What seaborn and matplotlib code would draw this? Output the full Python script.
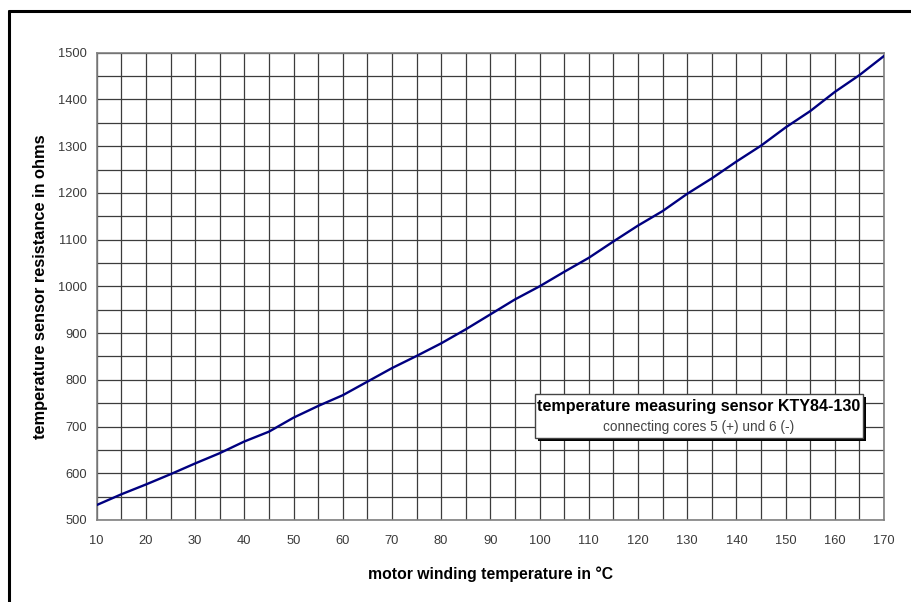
import numpy as np
import pandas as pd
import matplotlib
matplotlib.use('Agg')
import matplotlib.pyplot as plt
import seaborn as sns
from matplotlib.patches import Rectangle
from matplotlib.lines import Line2D
from matplotlib.ticker import MultipleLocator

# values (KTY84-130)
temperature = [10, 15, 20, 25, 30, 35, 40, 45, 50, 55, 60, 65, 70, 75, 80, 85,
               90, 95, 100, 105, 110, 115, 120, 125, 130, 135, 140, 145, 150,
               155, 160, 165, 170]
resistance = [532, 555, 576, 598, 621, 643, 668, 689, 719, 744, 767, 796, 825,
              851, 878, 908, 940, 972, 1000, 1031, 1061, 1096, 1130, 1161, 1198,
              1231, 1267, 1301, 1340, 1375, 1416, 1452, 1493]

df = pd.DataFrame({'temp': temperature, 'ohm': resistance})

sns.set_style('white')
plt.rcParams['font.family'] = ['Liberation Sans', 'DejaVu Sans']

fig = plt.figure(figsize=(9.11, 6.02), dpi=100)
ax = fig.add_axes([96.7 / 911, 1 - 520 / 602, (884 - 96.7) / 911, (520 - 52.7) / 602])

sns.lineplot(data=df, x='temp', y='ohm', ax=ax, color='#000080', linewidth=1.7, zorder=3)

ax.set_xlim(10, 170)
ax.set_ylim(500, 1500)
ax.xaxis.set_major_locator(MultipleLocator(10))
ax.xaxis.set_minor_locator(MultipleLocator(5))
ax.yaxis.set_major_locator(MultipleLocator(100))
ax.yaxis.set_minor_locator(MultipleLocator(50))
ax.grid(True, which='both', color='#3c3c3c', linewidth=0.9)
ax.set_axisbelow(True)
ax.tick_params(which='both', direction='out', length=3, width=0.9, color='#555555',
               labelsize=9.3, labelcolor='#3a3a3a', pad=8)
ax.tick_params(axis='y', pad=4)
for s in ax.spines.values():
    s.set_color('#808080')
    s.set_linewidth(1.2)

ax.set_xlabel('motor winding temperature in °C', fontsize=11.3, fontweight='bold',
              color='black', labelpad=14)
ax.set_ylabel('temperature sensor resistance in ohms', fontsize=11.8, fontweight='bold',
              color='black', labelpad=7)

# legend-like box with shadow
W, H = 911, 602
x0, y0, x1, y1 = 535, 394, 863, 438
fig.patches.append(Rectangle(((x0 + 3) / W, 1 - (y1 + 3) / H), (x1 - x0) / W, (y1 - y0) / H,
                             transform=fig.transFigure, facecolor='black', edgecolor='none', zorder=5))
fig.patches.append(Rectangle((x0 / W, 1 - y1 / H), (x1 - x0) / W, (y1 - y0) / H,
                             transform=fig.transFigure, facecolor='white', edgecolor='#444444',
                             linewidth=1, zorder=6))
fig.text((x0 + x1) / 2 / W, 1 - 407 / H, 'temperature measuring sensor KTY84-130',
         ha='center', va='center', fontsize=11.6, fontweight='bold', color='black', zorder=7)
fig.text((x0 + x1) / 2 / W, 1 - 427 / H, 'connecting cores 5 (+) und 6 (-)',
         ha='center', va='center', fontsize=9.8, color='#444444', zorder=7)

# outer frame (left and top edges)
fig.lines.append(Line2D([8.5 / W, 8.5 / W], [0, 1 - 11 / H], transform=fig.transFigure,
                        color='black', linewidth=2.2))
fig.lines.append(Line2D([8.5 / W, 1], [1 - 11 / H, 1 - 11 / H], transform=fig.transFigure,
                        color='black', linewidth=2.2))

fig.savefig('out.png', dpi=100)
